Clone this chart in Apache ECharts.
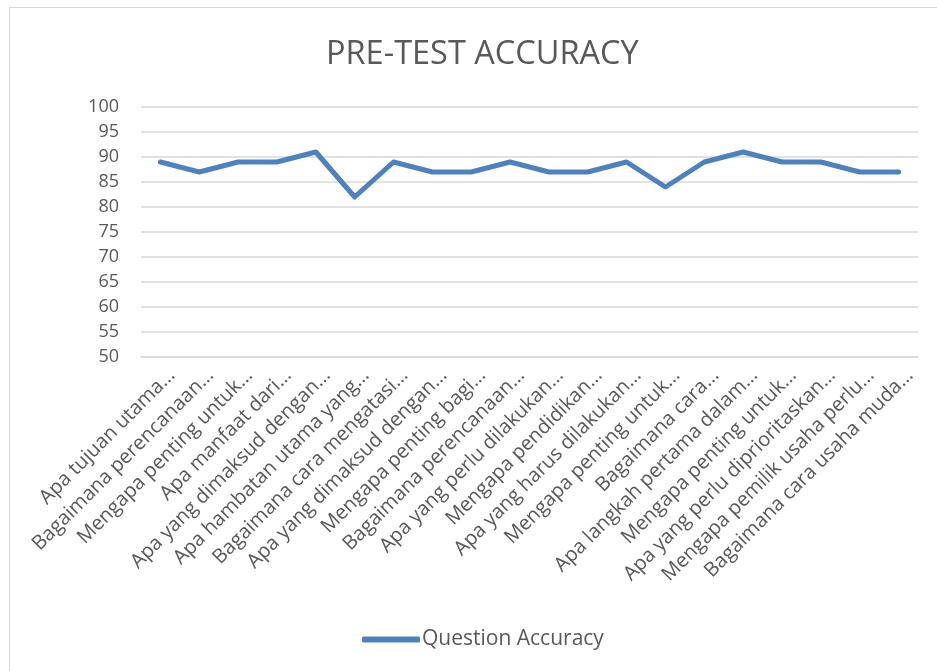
<!DOCTYPE html>
<html><head><meta charset="utf-8">
<script src="https://cdn.jsdelivr.net/npm/echarts@6/dist/echarts.min.js"></script>
<style>
html,body{margin:0;padding:0;background:#fff;overflow:hidden;}
#frame{position:absolute;left:9px;top:7px;width:960px;height:700px;border:1.5px solid #d9d9d9;box-sizing:border-box;}
#c{position:absolute;left:0;top:0;width:937px;height:671px;}
</style></head>
<body>
<div id="frame"></div>
<div id="c"></div>
<script>
const categories = [
  "Apa tujuan utama…",
  "Bagaimana perencanaan…",
  "Mengapa penting untuk…",
  "Apa manfaat dari…",
  "Apa yang dimaksud dengan…",
  "Apa hambatan utama yang…",
  "Bagaimana cara mengatasi…",
  "Apa yang dimaksud dengan…",
  "Mengapa penting bagi…",
  "Bagaimana perencanaan…",
  "Apa yang perlu dilakukan…",
  "Mengapa pendidikan…",
  "Apa yang harus dilakukan…",
  "Mengapa penting untuk…",
  "Bagaimana cara…",
  "Apa langkah pertama dalam…",
  "Mengapa penting untuk…",
  "Apa yang perlu diprioritaskan…",
  "Mengapa pemilik usaha perlu…",
  "Bagaimana cara usaha muda…"
];
const accuracy = [89,87,89,89,91,82,89,87,87,89,87,87,89,84,89,91,89,89,87,87];
const seriesName = "Question Accuracy";
const titleText = "PRE-TEST ACCURACY";

const chart = echarts.init(document.getElementById('c'));
const font = "'Open Sans', sans-serif";
chart.setOption({
  animation:false,
  title:{text:titleText,left:321,top:33,textStyle:{fontFamily:font,fontSize:32.5,fontWeight:'normal',color:'#595959'}},
  legend:{bottom:16,left:357,itemWidth:58,itemHeight:6,itemGap:4,icon:'roundRect',
    textStyle:{fontFamily:font,fontSize:21,color:'#595959',padding:[0,0,0,-3]},data:[seriesName]},
  grid:{left:141,right:19,top:107,height:250},
  xAxis:{type:'category',data:categories,boundaryGap:true,
    axisLine:{show:true,lineStyle:{color:'#d9d9d9',width:1.5}},axisTick:{show:false},
    axisLabel:{rotate:45,interval:0,fontFamily:font,fontSize:20,lineHeight:32,color:'#595959',margin:4,verticalAlign:'top'}},
  yAxis:{type:'value',min:50,max:100,interval:5,
    axisLine:{show:false},axisTick:{show:false},
    axisLabel:{fontFamily:font,fontSize:18,color:'#595959',margin:22},
    splitLine:{lineStyle:{color:'#d9d9d9',width:1.5}}},
  series:[{name:seriesName,type:'line',data:accuracy,showSymbol:false,symbol:'none',
    lineStyle:{color:'#4f81bd',width:5,cap:'round',join:'round'},itemStyle:{color:'#4f81bd'}}]
});
</script>
</body></html>
